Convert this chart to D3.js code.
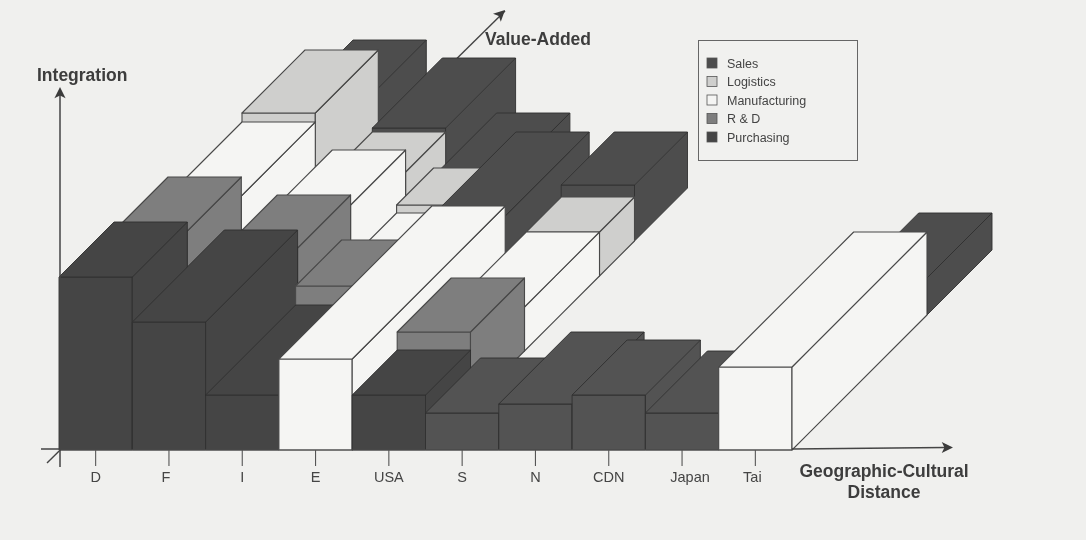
<!DOCTYPE html>
<html>
<head>
<meta charset="utf-8">
<script src="https://cdn.jsdelivr.net/npm/d3@7/dist/d3.min.js"></script>
<style>
html,body{margin:0;padding:0;background:#f0f0ee;}
svg{display:block;font-family:"Liberation Sans",Arial,sans-serif;}
</style>
</head>
<body>
<svg id="chart" width="1086" height="540"></svg>
<script>
// ---- data ----
const categories = ["D","F","I","E","USA","S","N","CDN","Japan","Tai"];
const seriesNames = ["Purchasing","R & D","Manufacturing","Logistics","Sales"];
const legendOrder = ["Sales","Logistics","Manufacturing","R & D","Purchasing"];
// integration level of each activity per country
const purchasingLevel    = [86.5,64,27.5,null,27.5,18.5,23,27.5,18.5,null];
const rndLevel           = [82,55,37,null,36.5,null,null,null,null,null];
const manufacturingLevel = [72.5,50,23,45.5,22,null,null,null,null,41.5];
const logisticsLevel     = [77,39,27,null,22,null,null,null,null,null];
const salesLevel         = [58,41,23,40.5,28,null,null,null,null,18.5];
// cumulative value-added reached at the end of each activity per country
const purchasingEnd    = [27.5,46,45,null,22.5,27.5,36,27.5,31,null];
const rndEnd           = [54.5,72.5,68,null,49.5,null,null,null,null,null];
const manufacturingEnd = [91.5,100,95.5,76.5,87,null,null,null,null,67.5];
const logisticsEnd     = [123,120,114,null,104.5,null,null,null,null,null];
const salesEnd         = [147,155,145.5,118.5,131,null,null,null,null,100];

const levels = [purchasingLevel,rndLevel,manufacturingLevel,logisticsLevel,salesLevel];
const ends   = [purchasingEnd,rndEnd,manufacturingEnd,logisticsEnd,salesEnd];

// ---- scales ----
const baseY = 450;
const x = d3.scaleBand().domain(categories).range([59,792]).padding(0);
const h = d3.scaleLinear().domain([0,100]).range([0,200]);
const depth = d3.scaleLinear().domain([0,160]).range([0,320]);
const fills = d3.scaleOrdinal().domain(seriesNames).range(["#444444","#7e7e7e","#f5f5f3","#cfcfcd","#4e4e4e"]);
const softerPurchasing = new Set(["S","N","CDN","Japan"]);
const textInk = "#444";

const svg = d3.select("#chart");
const defs = svg.append("defs");
defs.append("filter").attr("id","scan").append("feGaussianBlur").attr("stdDeviation",0.45);
const root = svg.append("g").attr("filter","url(#scan)");

const arrow = (sel,tip,angle,size) => sel.append("path")
  .attr("d",`M0,0L${-size*1.25},${-size*0.62}L${-size*0.95},0L${-size*1.25},${size*0.62}Z`)
  .attr("transform",`translate(${tip[0]},${tip[1]}) rotate(${angle})`)
  .attr("fill","#3a3a3a");

// value-added axis goes under the blocks
const axes = root.append("g");
axes.append("line").attr("x1",47).attr("y1",463).attr("x2",505).attr("y2",11)
  .attr("stroke","#444").attr("stroke-width",1.4);
arrow(axes,[505,10],-44,9);

// ---- blocks ----
const segments = [];
categories.forEach((c,i)=>{
  let z0 = 0;
  levels.forEach((lv,s)=>{
    if (lv[i]==null) return;
    segments.push({cat:c,series:seriesNames[s],level:lv[i],z0,z1:ends[s][i],col:i});
    z0 = ends[s][i];
  });
});
segments.sort((a,b)=> d3.ascending(a.col,b.col) || d3.descending(a.z0,b.z0));

const project = (d,side,z,lv) => [x(d.cat)+side*x.step()+depth(z), baseY-depth(z)-h(lv)];
const faces = d => ({
  front:[project(d,0,d.z0,0),project(d,1,d.z0,0),project(d,1,d.z0,d.level),project(d,0,d.z0,d.level)],
  right:[project(d,1,d.z0,0),project(d,1,d.z1,0),project(d,1,d.z1,d.level),project(d,1,d.z0,d.level)],
  topFace:[project(d,0,d.z0,d.level),project(d,1,d.z0,d.level),project(d,1,d.z1,d.level),project(d,0,d.z1,d.level)]
});
const fillOf = d => (d.series==="Purchasing" && softerPurchasing.has(d.cat)) ? "#535353" : fills(d.series);
const isDark = d => d.series==="Purchasing" || d.series==="Sales";

const block = root.append("g").selectAll("g").data(segments).join("g");
["front","right","topFace"].forEach(face=>{
  block.append("polygon")
    .attr("points",d=>faces(d)[face].map(p=>p.join(",")).join(" "))
    .attr("fill",fillOf)
    .attr("stroke",d=>isDark(d) ? "#303030" : "#484848")
    .attr("stroke-width",d=>isDark(d) ? 0.9 : 1.1)
    .attr("stroke-linejoin","round");
});

// ---- axes on top ----
const xAxis = d3.axisBottom(x).tickSize(16).tickSizeOuter(0);
const gx = root.append("g").attr("transform",`translate(0,${baseY})`).call(xAxis);
gx.select(".domain").remove();
gx.selectAll("line").attr("stroke","#555").attr("stroke-width",1.1);
gx.selectAll("text").attr("font-size",14.5).attr("fill",textInk)
  .attr("font-family",'"Liberation Sans",Arial,sans-serif')
  .attr("y",22).attr("dx",d=>d==="Japan"?8:(d==="F"?-3:(d==="Tai"?-3:0)));

const overlay = root.append("g");
overlay.append("line").attr("x1",41).attr("y1",449).attr("x2",59).attr("y2",449).attr("stroke","#444").attr("stroke-width",1.5);
overlay.append("line").attr("x1",792).attr("y1",449).attr("x2",945).attr("y2",447.5).attr("stroke","#444").attr("stroke-width",1.5);
overlay.append("line").attr("x1",59).attr("y1",450).attr("x2",792).attr("y2",450).attr("stroke","#555").attr("stroke-width",1);
arrow(overlay,[953,447.5],0,9);
overlay.append("line").attr("x1",60).attr("y1",467).attr("x2",60).attr("y2",94).attr("stroke","#444").attr("stroke-width",1.5);
arrow(overlay,[60,87],-90,9);

const titles = root.append("g").attr("font-weight","bold").attr("font-size",17.5).attr("fill","#3c3c3c");
titles.append("text").attr("x",37).attr("y",81).text("Integration");
titles.append("text").attr("x",485).attr("y",45).text("Value-Added");
titles.append("text").attr("x",884).attr("y",477).attr("text-anchor","middle").text("Geographic-Cultural");
titles.append("text").attr("x",884).attr("y",498).attr("text-anchor","middle").text("Distance");

// ---- legend ----
const legend = root.append("g");
legend.append("rect").attr("x",698.5).attr("y",40.5).attr("width",159).attr("height",120)
  .attr("fill","#f1f1ef").attr("stroke","#666").attr("stroke-width",1);
const ly = d3.scalePoint().domain(legendOrder).range([63,137]);
const li = legend.selectAll("g").data(legendOrder).join("g")
  .attr("transform",d=>`translate(707,${ly(d)})`);
li.append("rect").attr("x",0).attr("y",-5).attr("width",10).attr("height",10)
  .attr("fill",d=>fills(d)).attr("stroke","#555").attr("stroke-width",0.8);
li.append("text").attr("x",20).attr("y",4.5).attr("font-size",12.5).attr("fill",textInk).text(d=>d);
</script>
</body>
</html>
